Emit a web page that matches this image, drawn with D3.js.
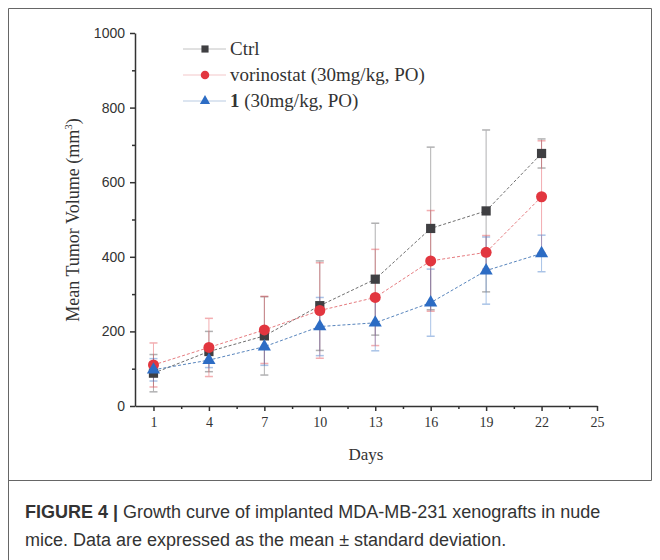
<!DOCTYPE html>
<html>
<head>
<meta charset="utf-8">
<script src="https://cdn.jsdelivr.net/npm/d3@7"></script>
<style>
	body { margin: 0; background: #fff; }
	svg { display: block; }
</style>
</head>
<body>
<div id="chart"></div>
<script>
// values
const days = [1, 4, 7, 10, 13, 16, 19, 22];
const ctrlMean = [88, 146, 188, 269, 340, 476, 523, 677];
const ctrlSd = [50, 54, 105, 120, 150, 218, 217, 39];
const vorinostatMean = [110, 157, 204, 256, 291, 389, 412, 561];
const vorinostatSd = [59, 78, 90, 128, 129, 135, 45, 150];
const cmpdMean = [97, 123, 159, 213, 223, 277, 363, 409];
const cmpdSd = [30, 20, 50, 78, 75, 90, 90, 49];
const xTicks = [1, 4, 7, 10, 13, 16, 19, 22, 25];
const xMinorTicks = [2.5, 5.5, 8.5, 11.5, 14.5, 17.5, 20.5, 23.5];
const yTicks = [0, 200, 400, 600, 800, 1000];
const yMinorTicks = [100, 300, 500, 700, 900];

const WIDTH = 660;
const HEIGHT = 560;
const SERIF = "'Liberation Serif', 'Times New Roman', serif";
const SANS = "'Liberation Sans', Arial, sans-serif";

const series = [
	{ name: "Ctrl", mean: ctrlMean, sd: ctrlSd, color: "#3f3f42", line: "#555", symbol: d3.symbolSquare, size: 85 },
	{ name: "vorinostat (30mg/kg, PO)", mean: vorinostatMean, sd: vorinostatSd, color: "#e2363f", line: "#e06468", symbol: d3.symbolCircle, size: 95 },
	{ name: "1", rest: " (30mg/kg, PO)", mean: cmpdMean, sd: cmpdSd, color: "#2c6cc4", line: "#3a6fb0", symbol: d3.symbolTriangle, size: 75 }
];

const svg = d3.select("#chart").append("svg")
	.attr("width", WIDTH)
	.attr("height", HEIGHT);

// figure frame
svg.append("path")
	.attr("d", "M8.5 560 L8.5 8.5 L651.5 8.5 L651.5 480.5 L8.5 480.5")
	.attr("fill", "none")
	.attr("stroke", "#666")
	.attr("stroke-width", 1);

const x = d3.scaleLinear().domain([0, 25]).range([135, 597]);
const y = d3.scaleLinear().domain([0, 1000]).range([406, 33]);

// axes
const axisX = svg.append("g")
	.attr("transform", "translate(0," + y(0) + ")")
	.call(d3.axisBottom(x).tickValues(xTicks).tickSize(5).tickPadding(6).tickSizeOuter(0));
axisX.selectAll("text")
	.attr("font-family", SERIF)
	.attr("font-size", 14)
	.attr("fill", "#333");

svg.append("g")
	.attr("transform", "translate(0," + y(0) + ")")
	.call(d3.axisBottom(x).tickValues(xMinorTicks).tickSize(3).tickFormat("").tickSizeOuter(0))
	.select(".domain").remove();

const axisY = svg.append("g")
	.attr("transform", "translate(" + x(0) + ",0)")
	.call(d3.axisLeft(y).tickValues(yTicks).tickFormat(d3.format("d")).tickSize(5).tickPadding(5).tickSizeOuter(0));
axisY.selectAll("text")
	.attr("font-family", SANS)
	.attr("font-size", 14)
	.attr("fill", "#333");

svg.append("g")
	.attr("transform", "translate(" + x(0) + ",0)")
	.call(d3.axisLeft(y).tickValues(yMinorTicks).tickSize(3).tickFormat("").tickSizeOuter(0))
	.select(".domain").remove();

svg.selectAll(".domain, .tick line")
	.attr("stroke", "#333")
	.attr("stroke-width", 1.5);

// axis titles
svg.append("text")
	.attr("x", (x(0) + x(25)) / 2)
	.attr("y", 460)
	.attr("text-anchor", "middle")
	.attr("font-family", SERIF)
	.attr("font-size", 17)
	.attr("fill", "#333")
	.text("Days");

const yTitle = svg.append("text")
	.attr("transform", "translate(79,220) rotate(-90)")
	.attr("text-anchor", "middle")
	.attr("font-family", SERIF)
	.attr("font-size", 18)
	.attr("fill", "#333");
yTitle.append("tspan").text("Mean Tumor Volume (mm");
yTitle.append("tspan").attr("font-size", 11).attr("dy", -7).text("3");
yTitle.append("tspan").attr("dy", 7).text(")");

// error bars
series.forEach(s => {
	const g = svg.append("g").attr("opacity", 0.4);
	days.forEach((day, i) => {
		const cx = x(day);
		const top = y(s.mean[i] + s.sd[i]);
		const bottom = y(s.mean[i] - s.sd[i]);
		g.append("line")
			.attr("x1", cx).attr("x2", cx)
			.attr("y1", top).attr("y2", bottom)
			.attr("stroke", s.color)
			.attr("stroke-width", 1);
		[top, bottom].forEach(cy => {
			g.append("line")
				.attr("x1", cx - 4).attr("x2", cx + 4)
				.attr("y1", cy).attr("y2", cy)
				.attr("stroke", s.color)
				.attr("stroke-width", 1.5);
		});
	});
});

// connecting lines
const line = d3.line()
	.x((d, i) => x(days[i]))
	.y(d => y(d));

series.forEach(s => {
	svg.append("path")
		.datum(s.mean)
		.attr("d", line)
		.attr("fill", "none")
		.attr("stroke", s.line)
		.attr("stroke-width", 1)
		.attr("stroke-dasharray", "3,2")
		.attr("opacity", 0.85);
});

// markers
series.forEach(s => {
	svg.append("g")
		.selectAll("path")
		.data(s.mean)
		.enter()
		.append("path")
		.attr("transform", (d, i) => "translate(" + x(days[i]) + "," + y(d) + ")")
		.attr("d", d3.symbol().type(s.symbol).size(s.size))
		.attr("fill", s.color);
});

// legend
const legend = svg.append("g");
series.forEach((s, i) => {
	const ly = 49 + i * 26;
	legend.append("line")
		.attr("x1", 183).attr("x2", 226)
		.attr("y1", ly).attr("y2", ly)
		.attr("stroke", s.line)
		.attr("stroke-width", 1)
		.attr("opacity", 0.35);
	legend.append("path")
		.attr("transform", "translate(205," + ly + ")")
		.attr("d", d3.symbol().type(s.symbol).size(s.size * 0.6))
		.attr("fill", s.color);
	const t = legend.append("text")
		.attr("x", 230)
		.attr("y", ly + 6)
		.attr("font-family", SERIF)
		.attr("font-size", 19)
		.attr("fill", "#333");
	if (s.rest) {
		t.append("tspan").attr("font-weight", "bold").text(s.name);
		t.append("tspan").text(s.rest);
	} else {
		t.text(s.name);
	}
});

// caption
const caption = svg.append("g")
	.attr("font-family", SANS)
	.attr("font-size", 18)
	.attr("fill", "#333");
const line1 = caption.append("text").attr("x", 25).attr("y", 518);
line1.append("tspan").attr("font-weight", "bold").text("FIGURE 4 | ");
line1.append("tspan").text("Growth curve of implanted MDA-MB-231 xenografts in nude");
caption.append("text").attr("x", 25).attr("y", 546)
	.text("mice. Data are expressed as the mean \u00b1 standard deviation.");
</script>
</body>
</html>
